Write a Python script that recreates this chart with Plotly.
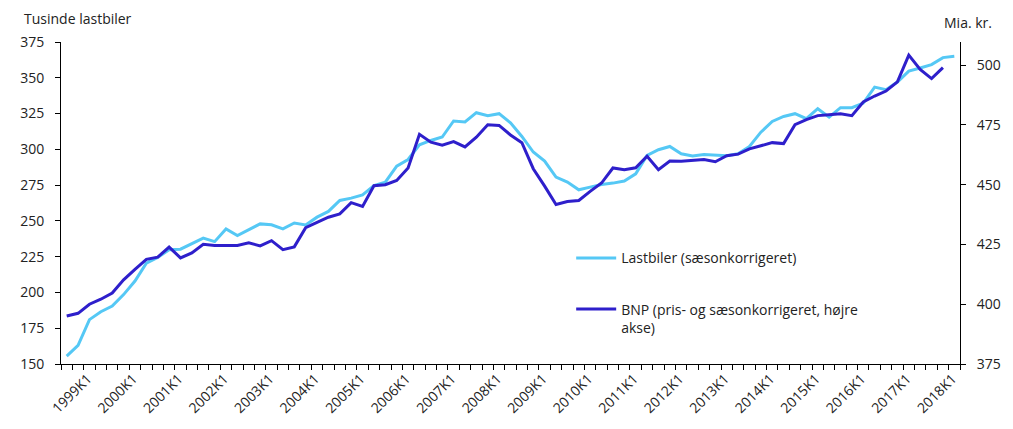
import plotly.graph_objects as go

# Quarters 1999K1 .. 2018K3
quarters = [f"{y}K{q}" for y in range(1999, 2019) for q in range(1, 5)][:79]

lastbiler = [
    155.5, 163.0, 181.0, 186.5, 190.5, 198.5, 208.0, 220.5, 224.5, 229.8,
    230.2, 234.0, 238.0, 235.5, 244.4, 239.8, 243.8, 247.9, 247.3, 244.4,
    248.5, 247.2, 252.6, 256.6, 264.3, 265.9, 268.2, 274.7, 277.1, 288.3,
    292.9, 303.2, 306.2, 308.6, 319.8, 319.1, 325.6, 323.5, 324.9, 318.5,
    309.0, 298.1, 291.8, 280.6, 277.1, 271.7, 273.6, 275.4, 276.4, 277.8,
    282.9, 295.7, 299.7, 302.0, 296.9, 295.3, 296.4, 295.9, 295.5, 296.9,
    302.0, 312.0, 319.5, 323.0, 324.9, 321.4, 328.4, 322.5, 329.1, 329.1,
    332.3, 343.5, 341.7, 347.0, 354.7, 356.8, 359.2, 364.1, 365.0,
]

bnp = [
    395.1, 396.2, 400.0, 402.1, 404.7, 410.2, 414.6, 418.8, 419.7, 423.9,
    419.4, 421.5, 425.1, 424.6, 424.6, 424.6, 425.7, 424.4, 426.6, 422.8,
    424.0, 432.0, 434.2, 436.4, 437.8, 442.5, 440.9, 449.6, 450.0, 451.8,
    457.0, 471.1, 467.8, 466.5, 468.0, 465.8, 469.9, 475.1, 474.8, 470.8,
    467.6, 456.7, 449.4, 441.7, 443.0, 443.4, 447.2, 450.7, 457.0, 456.3,
    457.1, 461.9, 456.3, 459.9, 459.8, 460.2, 460.5, 459.6, 462.1, 462.8,
    465.0, 466.3, 467.6, 467.2, 475.1, 477.2, 478.9, 479.3, 479.7, 478.9,
    484.6, 487.1, 489.2, 493.0, 504.2, 498.2, 494.4, 499.0, None,
]

left_ticks = [150, 175, 200, 225, 250, 275, 300, 325, 350, 375]
right_ticks = [375, 400, 425, 450, 475, 500]
tick_text = [q if q.endswith("K1") else "" for q in quarters]

LIGHT = "#55C8F5"
DARK = "#2E1FCB"
FONT = dict(family="Open Sans, Liberation Sans, Arial, sans-serif", size=14, color="#222222")

fig = go.Figure()
fig.add_trace(go.Scatter(
    x=quarters, y=lastbiler, mode="lines", name="Lastbiler (sæsonkorrigeret)",
    line=dict(color=LIGHT, width=3), legendgroup="a", yaxis="y",
))
fig.add_trace(go.Scatter(
    x=quarters, y=bnp, mode="lines",
    name="BNP (pris- og sæsonkorrigeret, højre<br>akse)",
    line=dict(color=DARK, width=3), legendgroup="b", yaxis="y2",
))

fig.update_layout(
    width=1005, height=421,
    margin=dict(l=40, r=44, t=34, b=65),
    paper_bgcolor="white", plot_bgcolor="white",
    font=FONT,
    showlegend=True,
    legend=dict(
        x=0.5675, y=0.378, xanchor="left", yanchor="top",
        bgcolor="rgba(0,0,0,0)", tracegroupgap=30, valign="top",
        font=dict(size=14), itemwidth=40,
    ),
    xaxis=dict(
        type="category", categoryorder="array", categoryarray=quarters,
        tickmode="array", tickvals=quarters, ticktext=tick_text,
        tickson="boundaries", ticks="outside", ticklen=5, tickcolor="#000",
        tickwidth=1, tickangle=-45, ticklabelshift=21,
        showline=True, linecolor="#000", linewidth=1,
        showgrid=False, zeroline=False, range=[-0.5, 78.5],
    ),
    yaxis=dict(
        range=[150, 375], tickvals=left_ticks, ticks="outside", ticklen=5,
        tickcolor="#000", showline=True, linecolor="#000", linewidth=1,
        showgrid=False, zeroline=False, ticklabelstandoff=8,
    ),
    yaxis2=dict(
        range=[375, 509.7], tickvals=right_ticks, ticks="outside", ticklen=5,
        tickcolor="#000", showline=True, linecolor="#000", linewidth=1,
        showgrid=False, zeroline=False, overlaying="y", side="right",
        ticklabelstandoff=8,
    ),
    annotations=[
        dict(text="Tusinde lastbiler", xref="paper", yref="paper",
             x=-0.0434, y=1.0745, xanchor="left", yanchor="middle",
             showarrow=False, font=FONT),
        dict(text="Mia. kr.", xref="paper", yref="paper",
             x=1.038, y=1.062, xanchor="right", yanchor="middle",
             showarrow=False, font=FONT),
    ],
)

fig.write_html("out.html")
